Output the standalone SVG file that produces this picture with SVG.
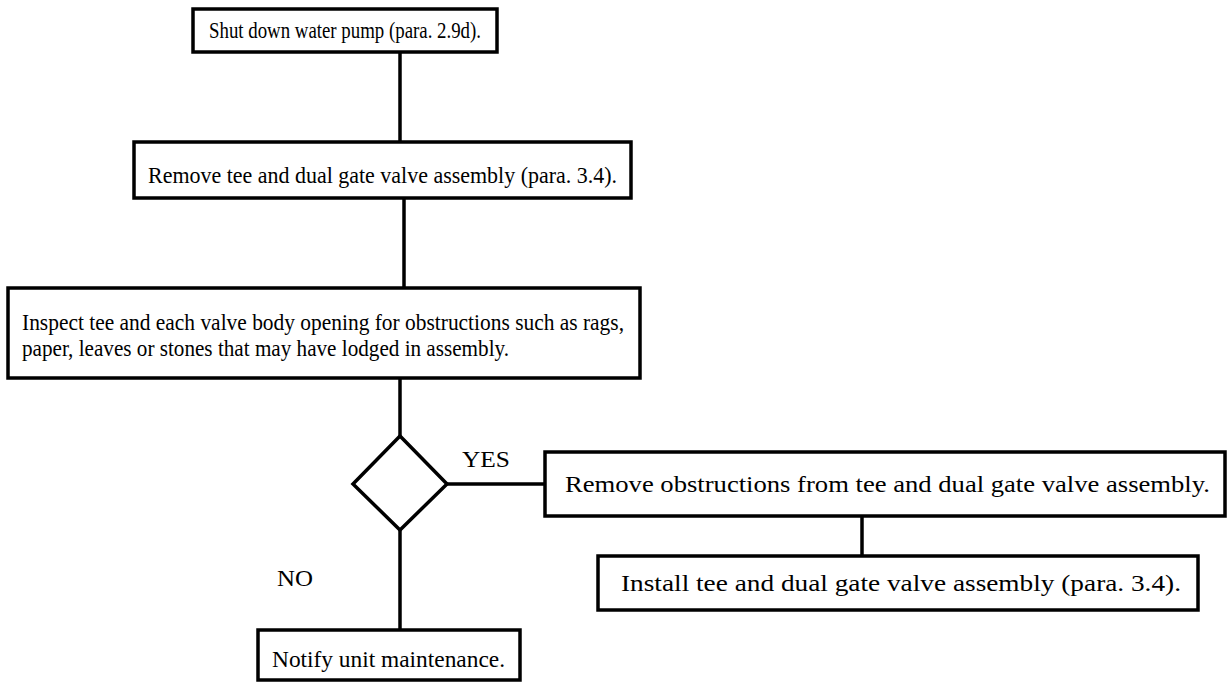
<svg xmlns="http://www.w3.org/2000/svg" width="1232" height="685" viewBox="0 0 1232 685">
<style>
.box{fill:#fff;stroke:#000;stroke-width:3.5}
.t{font-family:"Liberation Serif","Times New Roman",serif;font-size:23px;fill:#000}
.big{font-size:24px}
.c{stroke:#000;stroke-width:3.5;fill:none}
</style>
<rect width="1232" height="685" fill="#fff"/>
<g id="connectors">
<line class="c" x1="400" y1="52" x2="400" y2="142"/>
<line class="c" x1="404" y1="198" x2="404" y2="288"/>
<line class="c" x1="400" y1="378" x2="400" y2="436"/>
<line class="c" x1="447" y1="484" x2="545" y2="484"/>
<line class="c" x1="862" y1="516" x2="862" y2="556"/>
<line class="c" x1="400" y1="530" x2="400" y2="630"/>
</g>
<g id="n1"><rect class="box" x="193" y="9" width="304" height="43"/><text class="t" x="209" y="38" textLength="272" lengthAdjust="spacingAndGlyphs">Shut down water pump (para. 2.9d).</text></g>
<g id="n2"><rect class="box" x="134" y="142" width="497" height="56"/><text class="t" x="148" y="183" textLength="469" lengthAdjust="spacingAndGlyphs">Remove tee and dual gate valve assembly (para. 3.4).</text></g>
<g id="n3"><rect class="box" x="8" y="288" width="632" height="90"/><text class="t" x="22" y="330" textLength="602" lengthAdjust="spacingAndGlyphs">Inspect tee and each valve body opening for obstructions such as rags,</text><text class="t" x="22" y="356" textLength="487" lengthAdjust="spacingAndGlyphs">paper, leaves or stones that may have lodged in assembly.</text></g>
<g id="d1"><polygon class="box" points="400,436 447,484 400,530 353,484"/></g>
<text class="t" x="462" y="467" textLength="48" lengthAdjust="spacingAndGlyphs">YES</text>
<text class="t" x="277" y="586" textLength="36" lengthAdjust="spacingAndGlyphs">NO</text>
<g id="n4"><rect class="box" x="545" y="452" width="680" height="64"/><text class="t big" x="565" y="492" textLength="645" lengthAdjust="spacingAndGlyphs">Remove obstructions from tee and dual gate valve assembly.</text></g>
<g id="n5"><rect class="box" x="598" y="556" width="600" height="54"/><text class="t big" x="621" y="591" textLength="560" lengthAdjust="spacingAndGlyphs">Install tee and dual gate valve assembly (para. 3.4).</text></g>
<g id="n6"><rect class="box" x="258" y="630" width="262" height="50"/><text class="t" x="272" y="667" textLength="233" lengthAdjust="spacingAndGlyphs">Notify unit maintenance.</text></g>
</svg>
